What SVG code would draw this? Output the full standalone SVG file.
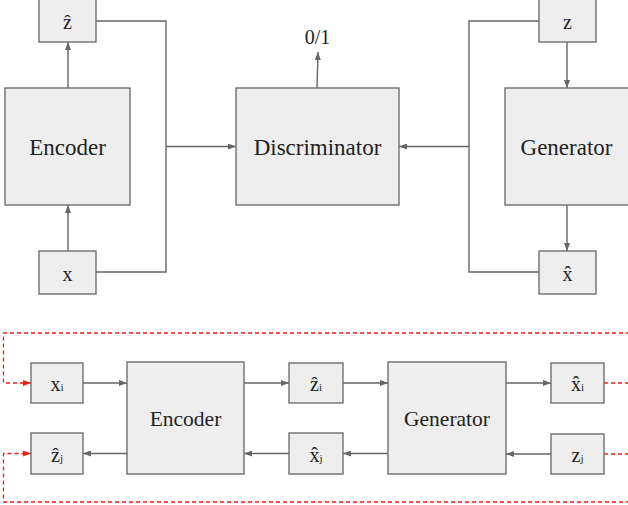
<svg xmlns="http://www.w3.org/2000/svg" width="628" height="505" viewBox="0 0 628 505">
  <style>
    .box { fill: #eeeeee; stroke: #6f6f6f; stroke-width: 1.4; }
    .wire { fill: none; stroke: #666666; stroke-width: 1.4; }
    .loop { fill: none; stroke: #ff1a1a; stroke-width: 1.3; stroke-dasharray: 4 3; }
    .big { font-family: "Liberation Serif", "Times New Roman", serif; font-size: 23px; fill: #222222; text-anchor: middle; }
    .mid { font-family: "Liberation Serif", "Times New Roman", serif; font-size: 21.5px; fill: #222222; text-anchor: middle; }
    .sym { font-family: "Liberation Serif", "Times New Roman", serif; font-size: 20px; fill: #222222; text-anchor: middle; }
    .sub { font-size: 11px; }
  </style>
  <defs>
    <marker id="ah" markerUnits="userSpaceOnUse" markerWidth="8" markerHeight="6" refX="8" refY="3" orient="auto">
      <path d="M0,0 L8,3 L0,6 z" fill="#666666"/>
    </marker>
    <marker id="ahRed" markerUnits="userSpaceOnUse" markerWidth="8" markerHeight="6" refX="8" refY="3" orient="auto">
      <path d="M0,0 L8,3 L0,6 z" fill="#ff1a1a"/>
    </marker>
  </defs>

  <rect width="628" height="505" fill="#ffffff"/>

  <!-- connectors -->
  <g id="connectors">
    <!-- upper: BiGAN discriminator -->
    <path class="wire" d="M68,88 V42" marker-end="url(#ah)"/>
    <path class="wire" d="M68,251 V205" marker-end="url(#ah)"/>
    <path class="wire" d="M96,21 H166 V272 H96"/>
    <path class="wire" d="M166,146.5 H236" stroke-width="2" marker-end="url(#ah)"/>
    <path class="wire" d="M317,88 L318,52" marker-end="url(#ah)"/>
    <path class="wire" d="M539,21 H469 V272 H539"/>
    <path class="wire" d="M469,146.5 H399" stroke-width="2" marker-end="url(#ah)"/>
    <path class="wire" d="M567,42 V88" marker-end="url(#ah)"/>
    <path class="wire" d="M567,205 V251" marker-end="url(#ah)"/>

    <!-- lower: cycle chains -->
    <path class="wire" d="M83,383 H127" marker-end="url(#ah)"/>
    <path class="wire" d="M244,383 H289" marker-end="url(#ah)"/>
    <path class="wire" d="M343,383 H388" marker-end="url(#ah)"/>
    <path class="wire" d="M506,383 H551" marker-end="url(#ah)"/>
    <path class="wire" d="M551,454 H506" marker-end="url(#ah)"/>
    <path class="wire" d="M388,453.5 H343" marker-end="url(#ah)"/>
    <path class="wire" d="M289,453.5 H244" marker-end="url(#ah)"/>
    <path class="wire" d="M127,453.5 H83" marker-end="url(#ah)"/>

    <!-- red feedback loops -->
    <path class="loop" d="M604,383 H630"/>
    <path class="loop" d="M630,333 H3.5 V383 H31" marker-end="url(#ahRed)"/>
    <path class="loop" d="M604,454 H630"/>
    <path class="loop" d="M630,502 H3.5 V453.5 H31" marker-end="url(#ahRed)"/>
  </g>

  <!-- upper nodes -->
  <g id="z-hat-top">
    <rect class="box" x="39" y="-2" width="57" height="44"/>
    <text class="sym" x="67.5" y="29">ẑ</text>
  </g>
  <g id="encoder-top">
    <rect class="box" x="5" y="88" width="125" height="117"/>
    <text class="big" x="67.5" y="155">Encoder</text>
  </g>
  <g id="x-top">
    <rect class="box" x="39" y="251" width="57" height="43"/>
    <text class="sym" x="67.5" y="281">x</text>
  </g>
  <g id="discriminator">
    <rect class="box" x="236" y="88" width="163" height="117"/>
    <text class="big" x="317.5" y="155">Discriminator</text>
  </g>
  <g id="output-label">
    <text class="sym" x="317.5" y="44" font-size="21">0/1</text>
  </g>
  <g id="z-top">
    <rect class="box" x="539" y="-2" width="57" height="44"/>
    <text class="sym" x="567.5" y="29">z</text>
  </g>
  <g id="generator-top">
    <rect class="box" x="505" y="88" width="126" height="117"/>
    <text class="big" x="566.5" y="155">Generator</text>
  </g>
  <g id="x-hat-top">
    <rect class="box" x="539" y="251" width="57" height="43"/>
    <text class="sym" x="567.5" y="281">x̂</text>
  </g>

  <!-- lower nodes -->
  <g id="x-i">
    <rect class="box" x="31" y="363" width="52" height="40"/>
    <text class="sym" x="57" y="391">x<tspan class="sub">i</tspan></text>
  </g>
  <g id="z-hat-j">
    <rect class="box" x="31" y="433" width="52" height="41"/>
    <text class="sym" x="57" y="462">ẑ<tspan class="sub">j</tspan></text>
  </g>
  <g id="encoder-bottom">
    <rect class="box" x="127" y="362" width="117" height="112"/>
    <text class="mid" x="185.5" y="426">Encoder</text>
  </g>
  <g id="z-hat-i">
    <rect class="box" x="289" y="363" width="54" height="40"/>
    <text class="sym" x="316" y="391">ẑ<tspan class="sub">i</tspan></text>
  </g>
  <g id="x-hat-j">
    <rect class="box" x="289" y="433" width="54" height="41"/>
    <text class="sym" x="316" y="462">x̂<tspan class="sub">j</tspan></text>
  </g>
  <g id="generator-bottom">
    <rect class="box" x="388" y="362" width="118" height="112"/>
    <text class="mid" x="447" y="426">Generator</text>
  </g>
  <g id="x-hat-i">
    <rect class="box" x="551" y="363" width="53" height="40"/>
    <text class="sym" x="577.5" y="391">x̂<tspan class="sub">i</tspan></text>
  </g>
  <g id="z-j">
    <rect class="box" x="551" y="434" width="53" height="40"/>
    <text class="sym" x="577.5" y="462">z<tspan class="sub">j</tspan></text>
  </g>
</svg>
